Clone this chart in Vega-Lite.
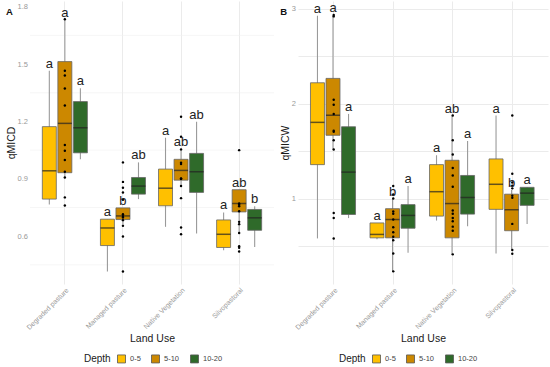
{
  "$schema": "https://vega.github.io/schema/vega-lite/v6.json",
  "padding": {"left": 6, "top": 1, "right": 2, "bottom": 1},
  "background": "white",
  "spacing": 5,
  "config": {
    "font": "Liberation Sans",
    "view": {"stroke": null},
    "axis": {"domain": false, "ticks": false, "gridColor": "#ebebeb", "labelColor": "#999999", "titleColor": "#1a1a1a", "titleFontWeight": "normal", "titleFontSize": 10.5, "labelFontSize": 7.5, "labelOverlap": false},
    "legend": {"orient": "none", "direction": "horizontal", "titleOrient": "left", "symbolType": "square", "symbolSize": 64, "symbolStrokeColor": "#555", "symbolStrokeWidth": 0.8, "labelFontSize": 7.5, "labelColor": "#444", "titleFontSize": 10, "titleFontWeight": "normal", "titleColor": "#1a1a1a", "columnPadding": 8, "labelOffset": 4, "titlePadding": 6},
    "title": {"anchor": "start", "frame": "bounds", "fontSize": 9.5, "fontWeight": "bold", "color": "#111"}
  },
  "datasets": {
    "boxes": [
      {"panel": "A", "land": "Degraded pasture", "depth": "0-5", "lower": 0.766, "q1": 0.794, "median": 0.942, "q3": 1.173, "upper": 1.465, "letter": "a"},
      {"panel": "A", "land": "Degraded pasture", "depth": "5-10", "lower": 0.911, "q1": 0.932, "median": 1.19, "q3": 1.513, "upper": 1.732, "letter": "a"},
      {"panel": "A", "land": "Degraded pasture", "depth": "10-20", "lower": 1.002, "q1": 1.036, "median": 1.167, "q3": 1.304, "upper": 1.374, "letter": "a"},
      {"panel": "A", "land": "Managed pasture", "depth": "0-5", "lower": 0.416, "q1": 0.551, "median": 0.643, "q3": 0.689, "upper": 0.689, "letter": "a"},
      {"panel": "A", "land": "Managed pasture", "depth": "5-10", "lower": 0.657, "q1": 0.687, "median": 0.706, "q3": 0.748, "upper": 0.748, "letter": "b"},
      {"panel": "A", "land": "Managed pasture", "depth": "10-20", "lower": 0.794, "q1": 0.82, "median": 0.862, "q3": 0.907, "upper": 0.986, "letter": "ab"},
      {"panel": "A", "land": "Native Vegetation", "depth": "0-5", "lower": 0.649, "q1": 0.759, "median": 0.851, "q3": 0.951, "upper": 1.115, "letter": "a"},
      {"panel": "A", "land": "Native Vegetation", "depth": "5-10", "lower": 0.858, "q1": 0.893, "median": 0.944, "q3": 1.002, "upper": 1.054, "letter": "ab"},
      {"panel": "A", "land": "Native Vegetation", "depth": "10-20", "lower": 0.614, "q1": 0.829, "median": 0.937, "q3": 1.033, "upper": 1.199, "letter": "ab"},
      {"panel": "A", "land": "Silvopastoral", "depth": "0-5", "lower": 0.526, "q1": 0.541, "median": 0.61, "q3": 0.685, "upper": 0.724, "letter": "a"},
      {"panel": "A", "land": "Silvopastoral", "depth": "5-10", "lower": 0.614, "q1": 0.727, "median": 0.771, "q3": 0.843, "upper": 0.843, "letter": "ab"},
      {"panel": "A", "land": "Silvopastoral", "depth": "10-20", "lower": 0.544, "q1": 0.631, "median": 0.696, "q3": 0.74, "upper": 0.757, "letter": "b"},
      {"panel": "B", "land": "Degraded pasture", "depth": "0-5", "lower": 0.58, "q1": 1.357, "median": 1.802, "q3": 2.219, "upper": 2.925, "letter": "a"},
      {"panel": "B", "land": "Degraded pasture", "depth": "5-10", "lower": 1.517, "q1": 1.666, "median": 1.877, "q3": 2.265, "upper": 2.93, "letter": "a"},
      {"panel": "B", "land": "Degraded pasture", "depth": "10-20", "lower": 0.794, "q1": 0.832, "median": 1.278, "q3": 1.756, "upper": 1.891, "letter": "a"},
      {"panel": "B", "land": "Managed pasture", "depth": "0-5", "lower": 0.572, "q1": 0.586, "median": 0.622, "q3": 0.743, "upper": 0.743, "letter": "a"},
      {"panel": "B", "land": "Managed pasture", "depth": "5-10", "lower": 0.233, "q1": 0.586, "median": 0.779, "q3": 0.893, "upper": 1.0, "letter": "b"},
      {"panel": "B", "land": "Managed pasture", "depth": "10-20", "lower": 0.43, "q1": 0.687, "median": 0.822, "q3": 0.936, "upper": 1.132, "letter": "a"},
      {"panel": "B", "land": "Native Vegetation", "depth": "0-5", "lower": 0.768, "q1": 0.815, "median": 1.072, "q3": 1.357, "upper": 1.456, "letter": "a"},
      {"panel": "B", "land": "Native Vegetation", "depth": "5-10", "lower": 0.412, "q1": 0.586, "median": 0.947, "q3": 1.403, "upper": 1.874, "letter": "ab"},
      {"panel": "B", "land": "Native Vegetation", "depth": "10-20", "lower": 0.708, "q1": 0.836, "median": 1.011, "q3": 1.243, "upper": 1.606, "letter": "a"},
      {"panel": "B", "land": "Silvopastoral", "depth": "0-5", "lower": 0.422, "q1": 0.886, "median": 1.15, "q3": 1.417, "upper": 1.874, "letter": "a"},
      {"panel": "B", "land": "Silvopastoral", "depth": "5-10", "lower": 0.465, "q1": 0.661, "median": 0.882, "q3": 1.046, "upper": 1.089, "letter": "b"},
      {"panel": "B", "land": "Silvopastoral", "depth": "10-20", "lower": 0.733, "q1": 0.928, "median": 1.057, "q3": 1.118, "upper": 1.121, "letter": "a"}
    ],
    "points": [
      {"panel": "A", "land": "Degraded pasture", "value": 1.735},
      {"panel": "A", "land": "Degraded pasture", "value": 1.465},
      {"panel": "A", "land": "Degraded pasture", "value": 1.44},
      {"panel": "A", "land": "Degraded pasture", "value": 1.372},
      {"panel": "A", "land": "Degraded pasture", "value": 1.283},
      {"panel": "A", "land": "Degraded pasture", "value": 1.077},
      {"panel": "A", "land": "Degraded pasture", "value": 1.047},
      {"panel": "A", "land": "Degraded pasture", "value": 0.998},
      {"panel": "A", "land": "Degraded pasture", "value": 0.937},
      {"panel": "A", "land": "Degraded pasture", "value": 0.907},
      {"panel": "A", "land": "Degraded pasture", "value": 0.803},
      {"panel": "A", "land": "Degraded pasture", "value": 0.761},
      {"panel": "A", "land": "Managed pasture", "value": 0.986},
      {"panel": "A", "land": "Managed pasture", "value": 0.884},
      {"panel": "A", "land": "Managed pasture", "value": 0.853},
      {"panel": "A", "land": "Managed pasture", "value": 0.829},
      {"panel": "A", "land": "Managed pasture", "value": 0.79},
      {"panel": "A", "land": "Managed pasture", "value": 0.715},
      {"panel": "A", "land": "Managed pasture", "value": 0.705},
      {"panel": "A", "land": "Managed pasture", "value": 0.698},
      {"panel": "A", "land": "Managed pasture", "value": 0.684},
      {"panel": "A", "land": "Managed pasture", "value": 0.654},
      {"panel": "A", "land": "Managed pasture", "value": 0.598},
      {"panel": "A", "land": "Managed pasture", "value": 0.415},
      {"panel": "A", "land": "Native Vegetation", "value": 1.225},
      {"panel": "A", "land": "Native Vegetation", "value": 1.12},
      {"panel": "A", "land": "Native Vegetation", "value": 1.054},
      {"panel": "A", "land": "Native Vegetation", "value": 0.984},
      {"panel": "A", "land": "Native Vegetation", "value": 0.977},
      {"panel": "A", "land": "Native Vegetation", "value": 0.9},
      {"panel": "A", "land": "Native Vegetation", "value": 0.9},
      {"panel": "A", "land": "Native Vegetation", "value": 0.9},
      {"panel": "A", "land": "Native Vegetation", "value": 0.862},
      {"panel": "A", "land": "Native Vegetation", "value": 0.799},
      {"panel": "A", "land": "Native Vegetation", "value": 0.645},
      {"panel": "A", "land": "Native Vegetation", "value": 0.61},
      {"panel": "A", "land": "Silvopastoral", "value": 1.05},
      {"panel": "A", "land": "Silvopastoral", "value": 0.771},
      {"panel": "A", "land": "Silvopastoral", "value": 0.765},
      {"panel": "A", "land": "Silvopastoral", "value": 0.757},
      {"panel": "A", "land": "Silvopastoral", "value": 0.73},
      {"panel": "A", "land": "Silvopastoral", "value": 0.675},
      {"panel": "A", "land": "Silvopastoral", "value": 0.663},
      {"panel": "A", "land": "Silvopastoral", "value": 0.617},
      {"panel": "A", "land": "Silvopastoral", "value": 0.547},
      {"panel": "A", "land": "Silvopastoral", "value": 0.539},
      {"panel": "A", "land": "Silvopastoral", "value": 0.52},
      {"panel": "B", "land": "Degraded pasture", "value": 2.918},
      {"panel": "B", "land": "Degraded pasture", "value": 2.933},
      {"panel": "B", "land": "Degraded pasture", "value": 2.04},
      {"panel": "B", "land": "Degraded pasture", "value": 1.987},
      {"panel": "B", "land": "Degraded pasture", "value": 1.891},
      {"panel": "B", "land": "Degraded pasture", "value": 1.713},
      {"panel": "B", "land": "Degraded pasture", "value": 1.702},
      {"panel": "B", "land": "Degraded pasture", "value": 1.613},
      {"panel": "B", "land": "Degraded pasture", "value": 1.517},
      {"panel": "B", "land": "Degraded pasture", "value": 0.847},
      {"panel": "B", "land": "Degraded pasture", "value": 0.794},
      {"panel": "B", "land": "Degraded pasture", "value": 0.58},
      {"panel": "B", "land": "Managed pasture", "value": 1.132},
      {"panel": "B", "land": "Managed pasture", "value": 1.043},
      {"panel": "B", "land": "Managed pasture", "value": 1.0},
      {"panel": "B", "land": "Managed pasture", "value": 0.864},
      {"panel": "B", "land": "Managed pasture", "value": 0.84},
      {"panel": "B", "land": "Managed pasture", "value": 0.779},
      {"panel": "B", "land": "Managed pasture", "value": 0.697},
      {"panel": "B", "land": "Managed pasture", "value": 0.644},
      {"panel": "B", "land": "Managed pasture", "value": 0.597},
      {"panel": "B", "land": "Managed pasture", "value": 0.561},
      {"panel": "B", "land": "Managed pasture", "value": 0.422},
      {"panel": "B", "land": "Managed pasture", "value": 0.233},
      {"panel": "B", "land": "Native Vegetation", "value": 1.874},
      {"panel": "B", "land": "Native Vegetation", "value": 1.613},
      {"panel": "B", "land": "Native Vegetation", "value": 1.463},
      {"panel": "B", "land": "Native Vegetation", "value": 1.321},
      {"panel": "B", "land": "Native Vegetation", "value": 1.243},
      {"panel": "B", "land": "Native Vegetation", "value": 1.125},
      {"panel": "B", "land": "Native Vegetation", "value": 0.875},
      {"panel": "B", "land": "Native Vegetation", "value": 0.84},
      {"panel": "B", "land": "Native Vegetation", "value": 0.794},
      {"panel": "B", "land": "Native Vegetation", "value": 0.761},
      {"panel": "B", "land": "Native Vegetation", "value": 0.704},
      {"panel": "B", "land": "Native Vegetation", "value": 0.661},
      {"panel": "B", "land": "Native Vegetation", "value": 0.412},
      {"panel": "B", "land": "Silvopastoral", "value": 1.874},
      {"panel": "B", "land": "Silvopastoral", "value": 1.26},
      {"panel": "B", "land": "Silvopastoral", "value": 1.168},
      {"panel": "B", "land": "Silvopastoral", "value": 1.136},
      {"panel": "B", "land": "Silvopastoral", "value": 1.107},
      {"panel": "B", "land": "Silvopastoral", "value": 1.029},
      {"panel": "B", "land": "Silvopastoral", "value": 1.007},
      {"panel": "B", "land": "Silvopastoral", "value": 0.733},
      {"panel": "B", "land": "Silvopastoral", "value": 0.458},
      {"panel": "B", "land": "Silvopastoral", "value": 0.419}
    ]
  },
  "resolve": {"scale": {"fill": "independent", "y": "independent", "x": "independent"}, "legend": {"fill": "independent"}},
  "hconcat": [
    {
      "width": 244,
      "height": 283,
      "title": {"text": "A", "dy": 19, "dx": 0},
      "layer": [
        {"data": {"values": [{}]}, "mark": {"type": "rule", "color": "#f0f0f0", "strokeWidth": 0.6}, "encoding": {"y": {"datum": 0.45, "type": "quantitative", "title": "qMICD"}}},
        {"data": {"values": [{}]}, "mark": {"type": "rule", "color": "#f0f0f0", "strokeWidth": 0.6}, "encoding": {"y": {"datum": 0.75, "type": "quantitative", "title": "qMICD"}}},
        {"data": {"values": [{}]}, "mark": {"type": "rule", "color": "#f0f0f0", "strokeWidth": 0.6}, "encoding": {"y": {"datum": 1.05, "type": "quantitative", "title": "qMICD"}}},
        {"data": {"values": [{}]}, "mark": {"type": "rule", "color": "#f0f0f0", "strokeWidth": 0.6}, "encoding": {"y": {"datum": 1.35, "type": "quantitative", "title": "qMICD"}}},
        {"data": {"values": [{}]}, "mark": {"type": "rule", "color": "#f0f0f0", "strokeWidth": 0.6}, "encoding": {"y": {"datum": 1.65, "type": "quantitative", "title": "qMICD"}}},
        {
          "data": {"name": "boxes"},
          "transform": [{"filter": "datum.panel == 'A'"}],
          "mark": {"type": "rule", "color": "#9a9a9a", "strokeWidth": 1.1},
          "encoding": {
            "x": {"field": "land", "type": "nominal", "sort": ["Degraded pasture", "Managed pasture", "Native Vegetation", "Silvopastoral"], "scale": {"paddingInner": 0, "paddingOuter": 0.1}, "axis": {"title": "Land Use", "labelAngle": -45, "labelFontSize": 7, "labelPadding": 2, "titlePadding": 3, "grid": true, "bandPosition": 0.5}},
            "xOffset": {"field": "depth", "type": "nominal", "sort": ["0-5", "5-10", "10-20"], "scale": {"paddingInner": 0.1, "paddingOuter": 0.42}},
            "y": {"field": "lower", "type": "quantitative", "title": "qMICD", "scale": {"domain": [0.35, 1.83], "nice": false, "zero": false}, "axis": {"title": "qMICD", "values": [0.6, 0.9, 1.2, 1.5, 1.8], "format": ".1f", "labels": true, "labelPadding": 2.5, "titlePadding": 1}},
            "y2": {"field": "upper"}
          }
        },
        {
          "data": {"name": "boxes"},
          "transform": [{"filter": "datum.panel == 'A'"}],
          "mark": {"type": "bar", "stroke": "#666", "strokeWidth": 0.8},
          "encoding": {
            "x": {"field": "land", "type": "nominal", "sort": ["Degraded pasture", "Managed pasture", "Native Vegetation", "Silvopastoral"]},
            "xOffset": {"field": "depth", "type": "nominal", "sort": ["0-5", "5-10", "10-20"]},
            "y": {"field": "q1", "type": "quantitative", "title": "qMICD"},
            "y2": {"field": "q3"},
            "fill": {"field": "depth", "type": "nominal", "sort": ["0-5", "5-10", "10-20"], "scale": {"domain": ["0-5", "5-10", "10-20"], "range": ["#FFC000", "#CC8800", "#2F6A2A"]}, "legend": {"title": "Depth", "legendX": 54, "legendY": 353}}
          }
        },
        {
          "data": {"name": "boxes"},
          "transform": [{"filter": "datum.panel == 'A'"}],
          "mark": {"type": "tick", "color": "#222", "thickness": 1.5, "size": 14},
          "encoding": {
            "x": {"field": "land", "type": "nominal", "sort": ["Degraded pasture", "Managed pasture", "Native Vegetation", "Silvopastoral"]},
            "xOffset": {"field": "depth", "type": "nominal", "sort": ["0-5", "5-10", "10-20"]},
            "y": {"field": "median", "type": "quantitative", "title": "qMICD"}
          }
        },
        {
          "data": {"name": "points"},
          "transform": [{"filter": "datum.panel == 'A'"}],
          "mark": {"type": "circle", "color": "#000", "size": 6, "opacity": 1},
          "encoding": {
            "x": {"field": "land", "type": "nominal", "sort": ["Degraded pasture", "Managed pasture", "Native Vegetation", "Silvopastoral"]},
            "y": {"field": "value", "type": "quantitative", "title": "qMICD"}
          }
        },
        {
          "data": {"name": "boxes"},
          "transform": [{"filter": "datum.panel == 'A'"}],
          "mark": {"type": "text", "fontSize": 13, "color": "#222", "baseline": "alphabetic", "dy": -3},
          "encoding": {
            "x": {"field": "land", "type": "nominal", "sort": ["Degraded pasture", "Managed pasture", "Native Vegetation", "Silvopastoral"]},
            "xOffset": {"field": "depth", "type": "nominal", "sort": ["0-5", "5-10", "10-20"]},
            "y": {"field": "upper", "type": "quantitative", "title": "qMICD"},
            "text": {"field": "letter"}
          }
        }
      ]
    },
    {
      "width": 250,
      "height": 283,
      "title": {"text": "B", "dy": 19, "dx": 0},
      "encoding": {
        "x": {"field": "land", "type": "nominal", "sort": ["Degraded pasture", "Managed pasture", "Native Vegetation", "Silvopastoral"], "scale": {"paddingInner": 0, "paddingOuter": 0.1}, "axis": {"title": "Land Use", "labelAngle": -45, "labelFontSize": 7, "labelPadding": 2, "titlePadding": 3, "grid": true, "bandPosition": 0.5}}
      },
      "layer": [
        {
          "data": {"name": "boxes"},
          "transform": [{"filter": "datum.panel == 'B'"}],
          "mark": {"type": "rule", "color": "#9a9a9a", "strokeWidth": 1.1},
          "encoding": {
            "xOffset": {"field": "depth", "type": "nominal", "sort": ["0-5", "5-10", "10-20"], "scale": {"paddingInner": 0.1, "paddingOuter": 0.42}},
            "y": {"field": "lower", "type": "quantitative", "scale": {"domain": [0.1, 3.08], "nice": false, "zero": false}, "axis": {"title": "qMICW", "values": [0.5, 1, 1.5, 2, 2.5, 3], "labelExpr": "datum.value % 1 == 0 ? format(datum.value, 'd') : ''", "labelPadding": 2.5, "titlePadding": 1}},
            "y2": {"field": "upper"}
          }
        },
        {
          "data": {"name": "boxes"},
          "transform": [{"filter": "datum.panel == 'B'"}],
          "mark": {"type": "bar", "stroke": "#666", "strokeWidth": 0.8},
          "encoding": {
            "xOffset": {"field": "depth", "type": "nominal", "sort": ["0-5", "5-10", "10-20"]},
            "y": {"field": "q1", "type": "quantitative"},
            "y2": {"field": "q3"},
            "fill": {"field": "depth", "type": "nominal", "sort": ["0-5", "5-10", "10-20"], "scale": {"domain": ["0-5", "5-10", "10-20"], "range": ["#FFC000", "#CC8800", "#2F6A2A"]}, "legend": {"title": "Depth", "legendX": 41, "legendY": 353}}
          }
        },
        {
          "data": {"name": "boxes"},
          "transform": [{"filter": "datum.panel == 'B'"}],
          "mark": {"type": "tick", "color": "#222", "thickness": 1.5, "size": 14},
          "encoding": {
            "xOffset": {"field": "depth", "type": "nominal", "sort": ["0-5", "5-10", "10-20"]},
            "y": {"field": "median", "type": "quantitative"}
          }
        },
        {
          "data": {"name": "points"},
          "transform": [{"filter": "datum.panel == 'B'"}],
          "mark": {"type": "circle", "color": "#000", "size": 6, "opacity": 1},
          "encoding": {
            "y": {"field": "value", "type": "quantitative"}
          }
        },
        {
          "data": {"name": "boxes"},
          "transform": [{"filter": "datum.panel == 'B'"}],
          "mark": {"type": "text", "fontSize": 13, "color": "#222", "baseline": "alphabetic", "dy": -3},
          "encoding": {
            "xOffset": {"field": "depth", "type": "nominal", "sort": ["0-5", "5-10", "10-20"]},
            "y": {"field": "upper", "type": "quantitative"},
            "text": {"field": "letter"}
          }
        }
      ]
    }
  ]
}
